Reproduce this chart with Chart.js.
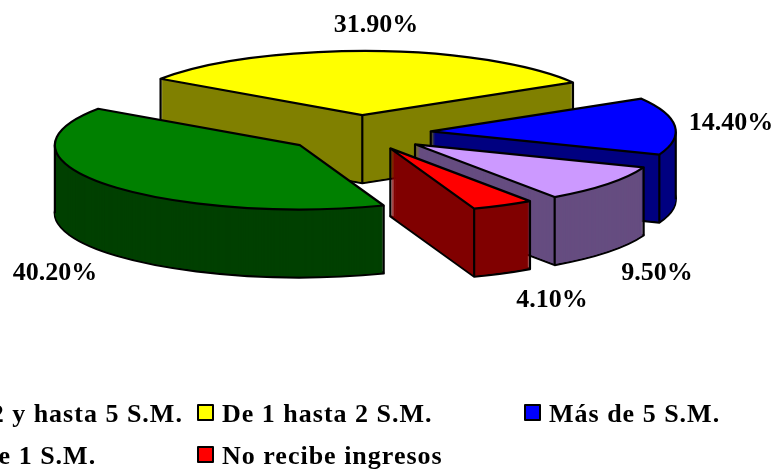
<!DOCTYPE html>
<html lang="es">
<head>
    <meta charset="UTF-8">
    <title>Ingresos</title>
    <script src="https://cdn.jsdelivr.net/npm/chart.js@4/dist/chart.umd.min.js"></script>
    <style>
        html, body { margin: 0; padding: 0; background: #fff; overflow: hidden; }
        canvas { display: block; }
    </style>
</head>
<body>
    <canvas id="pie" width="776" height="471"></canvas>

    <script>
        // Chart values
        const categories = ['Más de 2 y hasta 5 S.M.', 'De 1 hasta 2 S.M.', 'Más de 5 S.M.', 'Menos de 1 S.M.', 'No recibe ingresos'];
        const percents = [40.2, 31.9, 14.4, 9.5, 4.1];

        // Colours: top face, then the darker side
        const topColors = ['#008000', '#ffff00', '#0000ff', '#cc99ff', '#ff0000'];
        const sideColors = ['#004000', '#808000', '#000080', '#664d80', '#800000'];

        // 3D look
        const SQUASH = 0.262;
        const DEPTH = 68;
        const explodeBy = [76, 68, 71, 70, 66];
        const FONT = 'bold 26px "Liberation Serif"';

        // Centres of the percent labels, same order as categories
        const labelCentres = [[55, 273], [376, 25], [731, 123], [657, 273], [552, 300]];

        // Legend grid
        const legendCols = [-128, 197, 524];
        const legendRows = [404, 446];

        function wedge(ctx, g, dy) {
            ctx.beginPath();
            ctx.moveTo(g.px, g.py + dy);
            ctx.ellipse(g.px, g.py + dy, g.r, g.r * SQUASH, 0, g.start, g.end);
            ctx.closePath();
        }

        function vertical(ctx, x, y) {
            ctx.beginPath();
            ctx.moveTo(x, y);
            ctx.lineTo(x, y + DEPTH);
            ctx.stroke();
        }

        function drawSlice(ctx, g) {
            ctx.lineWidth = 2.2;
            ctx.lineJoin = 'round';
            ctx.strokeStyle = '#000';

            // bottom outline, then the body over its hidden part
            ctx.fillStyle = g.side;
            wedge(ctx, g, DEPTH);
            ctx.fill();
            ctx.stroke();
            for (let dy = DEPTH - 1; dy > 0; dy--) {
                wedge(ctx, g, dy);
                ctx.fill();
            }

            // only the edges next to a face that looks at us
            const startFace = Math.cos(g.start) < 0;
            const endFace = Math.cos(g.end) > 0;
            const sx = g.px + g.r * Math.cos(g.start);
            const sy = g.py + g.r * SQUASH * Math.sin(g.start);
            const ex = g.px + g.r * Math.cos(g.end);
            const ey = g.py + g.r * SQUASH * Math.sin(g.end);
            if (startFace || endFace) vertical(ctx, g.px, g.py);
            if (startFace || Math.sin(g.start) > 0) vertical(ctx, sx, sy);
            if (endFace || Math.sin(g.end) > 0) vertical(ctx, ex, ey);

            // left and right silhouette of the rim
            [0, Math.PI, 2 * Math.PI].forEach(a => {
                if (a > g.start && a < g.end) vertical(ctx, g.px + g.r * Math.cos(a), g.py);
            });

            ctx.fillStyle = g.top;
            wedge(ctx, g, 0);
            ctx.fill();
            ctx.stroke();
        }

        const pie3d = {
            id: 'pie3d',
            beforeDatasetsDraw(chart) {
                const ctx = chart.ctx;
                const slices = chart.getDatasetMeta(0).data.map((arc, i) => {
                    const mid = (arc.startAngle + arc.endAngle) / 2;
                    return {
                        px: arc.x + Math.cos(mid) * explodeBy[i],
                        py: arc.y + Math.sin(mid) * explodeBy[i] * SQUASH,
                        r: arc.outerRadius,
                        start: arc.startAngle,
                        end: arc.endAngle,
                        top: topColors[i],
                        side: sideColors[i]
                    };
                });
                // back to front
                slices.sort((a, b) => a.py - b.py).forEach(g => drawSlice(ctx, g));
                return false;
            },
            afterDraw(chart) {
                const ctx = chart.ctx;
                ctx.save();
                ctx.font = FONT;
                ctx.fillStyle = '#000';
                ctx.textBaseline = 'middle';
                ctx.textAlign = 'center';
                percents.forEach((p, i) => {
                    ctx.fillText(p.toFixed(2) + '%', labelCentres[i][0], labelCentres[i][1]);
                });

                // legend runs off the left edge like the original
                ctx.textAlign = 'left';
                ctx.textBaseline = 'alphabetic';
                ctx.letterSpacing = '1px';
                ctx.lineWidth = 2;
                ctx.strokeStyle = '#000';
                categories.forEach((name, i) => {
                    const x = legendCols[i % 3];
                    const y = legendRows[Math.floor(i / 3)];
                    ctx.fillStyle = topColors[i];
                    ctx.fillRect(x + 1, y + 1, 15, 15);
                    ctx.strokeRect(x + 1, y + 1, 15, 15);
                    ctx.fillStyle = '#000';
                    ctx.fillText(name, x + 25, y + 18);
                });
                ctx.restore();
            }
        };

        new Chart(document.getElementById('pie'), {
            type: 'pie',
            data: {
                labels: categories,
                datasets: [{ data: percents, backgroundColor: topColors, borderWidth: 0 }]
            },
            options: {
                responsive: false,
                animation: false,
                rotation: 160,
                radius: 245,
                layout: { padding: { left: 0, right: 56, top: 0, bottom: 205 } },
                plugins: { legend: { display: false }, tooltip: { enabled: false } }
            },
            plugins: [pie3d]
        });
    </script>
</body>
</html>
